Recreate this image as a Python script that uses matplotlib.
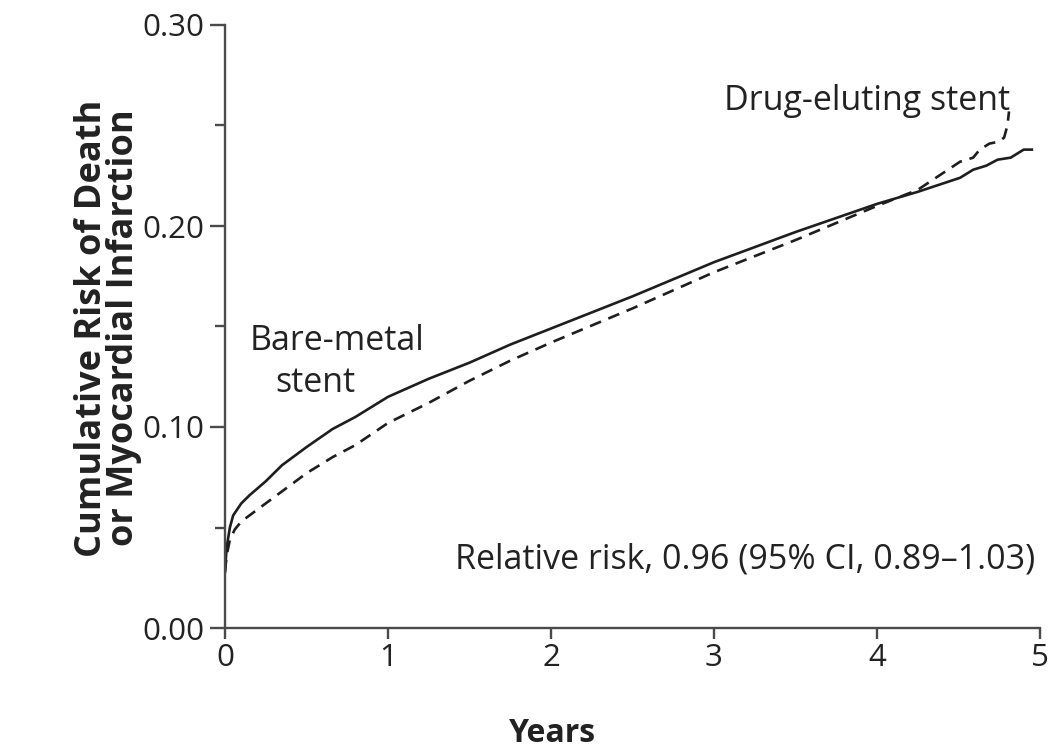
import matplotlib
matplotlib.use("Agg")
import matplotlib.pyplot as plt
from matplotlib.ticker import MultipleLocator

# Data
years_bms = [0, 0.01, 0.03, 0.05, 0.10, 0.15, 0.25, 0.35, 0.50, 0.66, 0.80, 1.00,
             1.25, 1.50, 1.75, 2.00, 2.50, 3.00, 3.50, 4.00, 4.25, 4.51, 4.59, 4.67,
             4.74, 4.82, 4.88, 4.90, 4.95]
risk_bms = [0.028, 0.040, 0.050, 0.056, 0.062, 0.066, 0.073, 0.081, 0.090, 0.099, 0.105, 0.115,
            0.124, 0.132, 0.141, 0.149, 0.165, 0.182, 0.197, 0.211, 0.217, 0.224, 0.228, 0.230,
            0.233, 0.234, 0.237, 0.238, 0.238]

years_des = [0, 0.01, 0.03, 0.06, 0.10, 0.15, 0.25, 0.35, 0.50, 0.66, 0.80, 1.00,
             1.25, 1.50, 1.75, 2.00, 2.50, 3.00, 3.50, 4.00, 4.25, 4.51, 4.59, 4.63,
             4.69, 4.75, 4.78, 4.80, 4.81]
risk_des = [0.028, 0.036, 0.044, 0.049, 0.053, 0.056, 0.062, 0.068, 0.077, 0.085, 0.091, 0.102,
            0.112, 0.123, 0.133, 0.142, 0.159, 0.177, 0.193, 0.210, 0.218, 0.232, 0.234, 0.238,
            0.241, 0.242, 0.244, 0.250, 0.257]

x_ticks = [0, 1, 2, 3, 4, 5]
y_ticks = [0.00, 0.10, 0.20, 0.30]
y_tick_labels = ["0.00", "0.10", "0.20", "0.30"]

plt.rcParams['font.family'] = ['Open Sans', 'DejaVu Sans']
FS_TICK = 22.5
FS_NOTE = 24.5
txt_c = '#222222'
spine_c = '#4a4a4a'
line_c = '#1e1e1e'

fig = plt.figure(figsize=(10.5, 7.55), dpi=100)
ax = fig.add_axes([225/1050, (755-628)/755, (1040-225)/1050, (628-25)/755])

ax.plot(years_bms, risk_bms, color=line_c, lw=1.9, solid_joinstyle='round')
ax.plot(years_des, risk_des, color=line_c, lw=1.9, linestyle=(0, (4.5, 3)))

ax.set_xlim(0, 5)
ax.set_ylim(0, 0.30)
ax.set_xticks(x_ticks)
ax.set_xticklabels([str(v) for v in x_ticks])
ax.set_yticks(y_ticks)
ax.set_yticklabels(y_tick_labels)
ax.yaxis.set_minor_locator(MultipleLocator(0.05))

for s in ['top', 'right']:
    ax.spines[s].set_visible(False)
for s in ['left', 'bottom']:
    ax.spines[s].set_color(spine_c)
    ax.spines[s].set_linewidth(1.7)

ax.tick_params(axis='both', which='major', colors=spine_c, width=1.7, labelcolor=txt_c,
               labelsize=FS_TICK)
ax.tick_params(axis='y', which='major', length=11, pad=4)
ax.tick_params(axis='y', which='minor', length=7, width=1.7, colors=spine_c)
ax.tick_params(axis='x', which='major', length=8, pad=3)

fig.text(553/1050, 1 - 734/755, "Years", fontsize=23, fontweight='bold', color=txt_c,
         ha='center', va='center')
fig.text(108/1050, 1 - 328/755, "Cumulative Risk of Death\nor Myocardial Infarction",
         fontsize=26, fontweight='bold', color=txt_c, rotation=90, ha='center', va='center',
         multialignment='center', linespacing=0.82)

ax.text(4.816, 0.262, "Drug-eluting stent", fontsize=FS_NOTE, ha='right', va='center', color=txt_c)
ax.text(0.153, 0.143, "Bare-metal", fontsize=FS_NOTE, ha='left', va='center', color=txt_c)
ax.text(0.31, 0.122, "stent", fontsize=FS_NOTE, ha='left', va='center', color=txt_c)
ax.text(4.97, 0.034, "Relative risk, 0.96 (95% CI, 0.89\u20131.03)", fontsize=FS_NOTE,
        ha='right', va='center', color=txt_c)

fig.savefig("out.png", dpi=100, facecolor='white')
